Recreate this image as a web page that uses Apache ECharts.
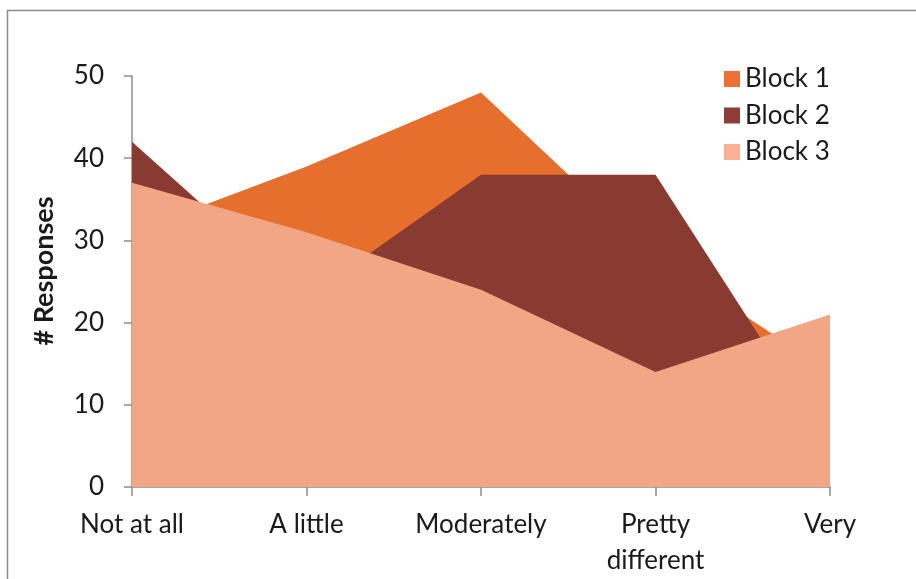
<!DOCTYPE html>
<html>
<head>
<meta charset="utf-8">
<script src="https://cdn.jsdelivr.net/npm/echarts@6/dist/echarts.min.js"></script>
<style>
  html, body { margin: 0; padding: 0; background: #ffffff; }
  #chart { width: 916px; height: 579px; }
</style>
</head>
<body>
<div id="chart"></div>
<script>
// Response categories along the x axis
const categories = ['Not at all', 'A little', 'Moderately', 'Pretty\ndifferent', 'Very'];

// Responses per block
const block1 = [31, 39, 48, 28, 14];
const block2 = [42, 23, 38, 38, 5];
const block3 = [37, 31, 24, 14, 21];

// Y axis range and step
const yMin = 0;
const yMax = 50;
const yStep = 10;
const yTitle = '# Responses';

const seriesNames = ['Block 1', 'Block 2', 'Block 3'];
const seriesData = [block1, block2, block3];
const areaColors = ['#E66F2E', '#8A3B31', '#F3A686'];
const legendColors = ['#EE7035', '#8F3D37', '#F8B293'];

const FONT = 'Lato, "Open Sans", sans-serif';
const TEXT_COLOR = '#1a1a1a';
const AXIS_COLOR = '#8c8c8c';

const chart = echarts.init(document.getElementById('chart'), null, { renderer: 'canvas' });

const option = {
  backgroundColor: '#ffffff',
  animation: false,
  textStyle: { fontFamily: FONT },
  graphic: [{
    type: 'rect',
    shape: { x: 7.5, y: 10.5, width: 1000, height: 1000 },
    style: { fill: 'none', stroke: '#8a8a8a', lineWidth: 1.5 },
    silent: true,
    z: -10
  }, {
    // rotated y-axis title
    type: 'text',
    x: 44,
    y: 271,
    rotation: Math.PI / 2,
    style: {
      text: yTitle,
      fontSize: 27,
      fontWeight: 'bold',
      fontFamily: FONT,
      fill: TEXT_COLOR,
      align: 'center',
      verticalAlign: 'middle'
    },
    silent: true
  }],
  grid: { left: 132, right: 86, top: 76, bottom: 90, containLabel: false },
  legend: {
    data: seriesNames.map((n, i) => ({ name: n, itemStyle: { color: legendColors[i] } })),
    orient: 'vertical',
    left: 719,
    top: 61,
    itemWidth: 16,
    itemHeight: 16,
    itemGap: 10.5,
    icon: 'rect',
    textStyle: { fontSize: 26, lineHeight: 26, color: TEXT_COLOR, fontFamily: FONT, padding: [0, 0, 0, 0] }
  },
  xAxis: {
    type: 'category',
    data: categories,
    boundaryGap: false,
    axisLine: { show: true, lineStyle: { color: AXIS_COLOR, width: 1.5 } },
    axisTick: { show: true, alignWithLabel: true, length: 9, lineStyle: { color: AXIS_COLOR, width: 1.5 } },
    axisLabel: { fontSize: 26, color: TEXT_COLOR, margin: 20, lineHeight: 36, interval: 0, fontFamily: FONT },
    splitLine: { show: false }
  },
  yAxis: {
    type: 'value',
    min: yMin,
    max: yMax,
    interval: yStep,
    axisLine: { show: true, lineStyle: { color: AXIS_COLOR, width: 1.5 } },
    axisTick: { show: true, length: 8, lineStyle: { color: AXIS_COLOR, width: 1.5 } },
    axisLabel: { fontSize: 26, color: TEXT_COLOR, margin: 28, fontFamily: FONT },
    splitLine: { show: false }
  },
  series: seriesNames.map((name, i) => ({
    name: name,
    type: 'line',
    data: seriesData[i],
    symbol: 'none',
    smooth: false,
    lineStyle: { width: 0, color: areaColors[i] },
    itemStyle: { color: areaColors[i] },
    areaStyle: { color: areaColors[i], opacity: 1 },
    z: 2 + i
  }))
};

chart.setOption(option);
</script>
</body>
</html>
